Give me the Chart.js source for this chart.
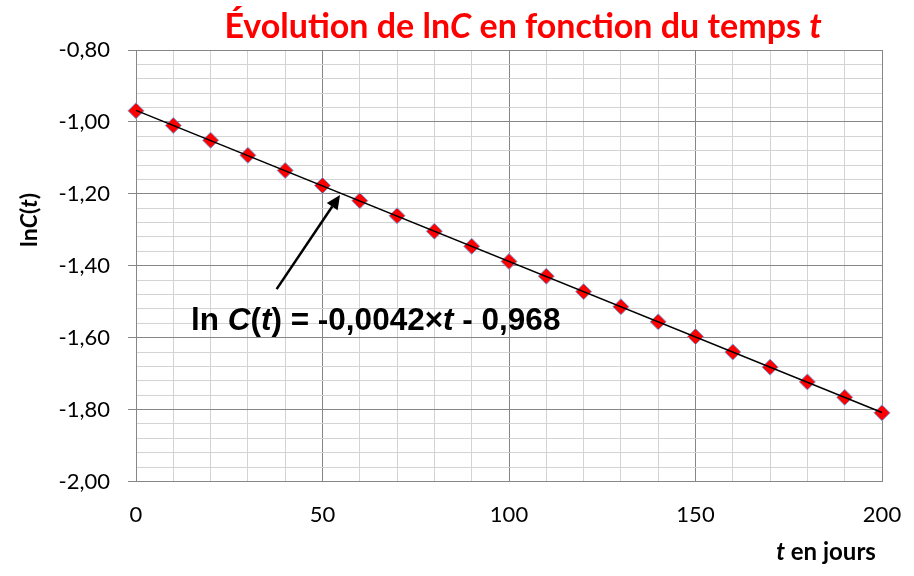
<!DOCTYPE html>
<html>
<head>
<meta charset="utf-8">
<script src="https://cdn.jsdelivr.net/npm/chart.js@4/dist/chart.umd.min.js"></script>
<style>
  html, body { margin: 0; padding: 0; background: #fff; }
  #wrap { width: 914px; height: 576px; }
</style>
</head>
<body>
<div id="wrap"><canvas id="chart"></canvas></div>
<script>
const days = [0, 10, 20, 30, 40, 50, 60, 70, 80, 90, 100, 110, 120, 130, 140, 150, 160, 170, 180, 190, 200];
const lnC = [-0.969, -1.010, -1.051, -1.093, -1.135, -1.177, -1.219, -1.261, -1.304, -1.346, -1.388,
             -1.429, -1.472, -1.514, -1.556, -1.597, -1.640, -1.682, -1.723, -1.766, -1.809];

// trend line ends, from the printed equation
const fitDays = [0, 200];
const fitLnC = [-0.968, -1.808];

// arrow pointing at the line (data units)
const arrowFrom = { t: 37.7, y: -1.465 };
const arrowTo = { t: 54.7, y: -1.203 };

const titleParts = [["Évolution de ln", false], ["C", true], [" en fonction du temps ", false], ["t", true]];
const yTitleParts = [["ln", false], ["C", true], ["(", false], ["t", true], [")", false]];
const xTitleParts = [["t", true], [" en jours", false]];
const eqParts = [["ln ", false], ["C", true], ["(", false], ["t", true], [") = -0,0042×", false], ["t", true], [" - 0,968", false]];

const MAJOR = "#868686";
const MINOR = "#d3d3d3";

const isMajorX = v => Math.abs(v % 50) < 1e-6;
const isMajorY = v => Math.abs(v * 5 - Math.round(v * 5)) < 1e-6;

function richText(ctx, parts, x, y, size, family, color, align) {
  const fontOf = it => (it ? "italic " : "") + "bold " + size + "px " + family;
  let w = 0;
  parts.forEach(([s, it]) => { ctx.font = fontOf(it); w += ctx.measureText(s).width; });
  let cx = align === "center" ? x - w / 2 : x;
  ctx.fillStyle = color;
  ctx.textBaseline = "alphabetic";
  ctx.textAlign = "left";
  parts.forEach(([s, it]) => {
    ctx.font = fontOf(it);
    ctx.fillText(s, cx, y);
    cx += ctx.measureText(s).width;
  });
}

const labelsPlugin = {
  id: "labels",
  afterDraw(chart) {
    const ctx = chart.ctx;
    const xs = chart.scales.x, ys = chart.scales.y;
    ctx.save();
    richText(ctx, titleParts, 523, 38, 34, "Lato", "#ff0000", "center");
    richText(ctx, xTitleParts, 826, 560, 24, "Lato", "#000", "center");
    ctx.save();
    ctx.translate(37, 220);
    ctx.rotate(-Math.PI / 2);
    richText(ctx, yTitleParts, 0, 0, 23, "Lato", "#000", "center");
    ctx.restore();
    richText(ctx, eqParts, 191, 330, 31.5, "'Liberation Sans', Arial", "#000", "left");

    // arrow
    const x0 = xs.getPixelForValue(arrowFrom.t), y0 = ys.getPixelForValue(arrowFrom.y);
    const x1 = xs.getPixelForValue(arrowTo.t), y1 = ys.getPixelForValue(arrowTo.y);
    const ang = Math.atan2(y1 - y0, x1 - x0);
    const hl = 14, hw = 6.5;
    const bx = x1 - hl * Math.cos(ang), by = y1 - hl * Math.sin(ang);
    ctx.strokeStyle = "#000";
    ctx.lineWidth = 2.5;
    ctx.beginPath();
    ctx.moveTo(x0, y0);
    ctx.lineTo(bx, by);
    ctx.stroke();
    ctx.fillStyle = "#000";
    ctx.beginPath();
    ctx.moveTo(x1, y1);
    ctx.lineTo(bx + hw * Math.sin(ang), by - hw * Math.cos(ang));
    ctx.lineTo(bx - hw * Math.sin(ang), by + hw * Math.cos(ang));
    ctx.closePath();
    ctx.fill();
    ctx.restore();
  }
};

new Chart(document.getElementById("chart"), {
  type: "scatter",
  data: {
    datasets: [
      {
        label: "ajustement",
        data: fitDays.map((t, i) => ({ x: t, y: fitLnC[i] })),
        showLine: true,
        borderColor: "#000",
        borderWidth: 1.5,
        pointRadius: 0,
        clip: false
      },
      {
        label: "lnC",
        data: days.map((t, i) => ({ x: t, y: lnC[i] })),
        pointStyle: "rectRot",
        pointRadius: 8,
        backgroundColor: "#ff0000",
        borderColor: "#6fa3dc",
        borderWidth: 1,
        clip: false
      }
    ]
  },
  options: {
    responsive: true,
    maintainAspectRatio: false,
    animation: false,
    layout: { padding: { top: 50, right: 32, left: 0, bottom: 0 } },
    plugins: { legend: { display: false }, tooltip: { enabled: false }, title: { display: false } },
    scales: {
      x: {
        type: "linear",
        min: 0, max: 200,
        afterFit: s => { s.height = 94.5; s.paddingLeft = 0; s.paddingRight = 0; },
        border: { color: MAJOR, width: 1 },
        grid: {
          color: c => isMajorX(c.tick.value) ? MAJOR : MINOR,
          drawTicks: false
        },
        ticks: {
          stepSize: 10,
          autoSkip: false,
          maxRotation: 0,
          padding: 20,
          color: "#000",
          font: { family: "Lato", size: 22 },
          callback: v => isMajorX(v) ? String(v) : ""
        }
      },
      y: {
        type: "linear",
        min: -2, max: -0.8,
        afterFit: s => { s.width = 136; },
        border: { color: MAJOR, width: 1 },
        grid: {
          color: c => isMajorY(c.tick.value) ? MAJOR : MINOR,
          tickColor: c => isMajorY(c.tick.value) ? MAJOR : "rgba(0,0,0,0)",
          tickLength: 8
        },
        ticks: {
          stepSize: 0.04,
          autoSkip: false,
          padding: 18,
          color: "#000",
          font: { family: "Lato", size: 22 },
          callback: v => isMajorY(v) ? v.toFixed(2).replace(".", ",") : ""
        }
      }
    }
  },
  plugins: [labelsPlugin]
});
</script>
</body>
</html>
